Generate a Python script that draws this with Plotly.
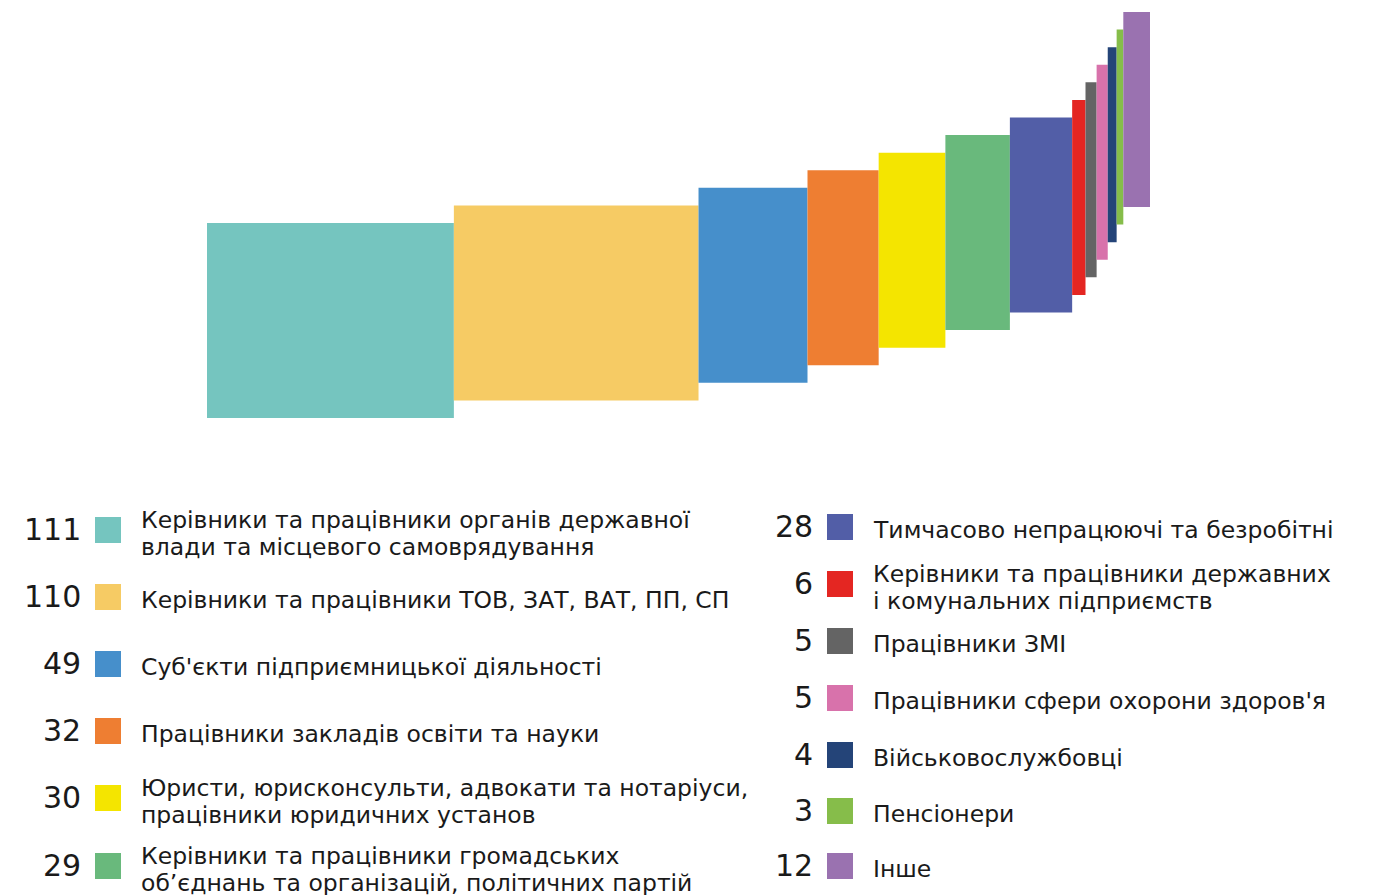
import plotly.graph_objects as go

# ---------------- data ----------------
categories = [
    "Керівники та працівники органів державної<br>влади та місцевого самоврядування",
    "Керівники та працівники ТОВ, ЗАТ, ВАТ, ПП, СП",
    "Суб'єкти підприємницької діяльності",
    "Працівники закладів освіти та науки",
    "Юристи, юрисконсульти, адвокати та нотаріуси,<br>працівники юридичних установ",
    "Керівники та працівники громадських<br>об’єднань та організацій, політичних партій",
    "Тимчасово непрацюючі та безробітні",
    "Керівники та працівники державних<br>і комунальних підприємств",
    "Працівники ЗМІ",
    "Працівники сфери охорони здоров'я",
    "Військовослужбовці",
    "Пенсіонери",
    "Інше",
]
values = [111, 110, 49, 32, 30, 29, 28, 6, 5, 5, 4, 3, 12]
colors = [
    "#75C5BF", "#F6CB64", "#468FCB", "#EE7E32", "#F4E500", "#69B97C",
    "#525EA7", "#E42622", "#646464", "#D872AB", "#244478", "#86BD4A", "#9A72B0",
]

# ---------------- layout constants ----------------
W, H = 1379, 895
OFF = 8                            # page body margin offset
X0_PX, X1_PX = 207 - OFF, 1150 - OFF
total = sum(values)
px_per_unit = (X1_PX - X0_PX) / total
step_px = 17.58                    # vertical rise between consecutive bars
bar_h_px = 195
first_bottom_px = 418 - OFF

lefts = []
acc = 0
for v in values:
    lefts.append(acc)
    acc += v
centers = [l + v / 2 for l, v in zip(lefts, values)]
bases = [H - first_bottom_px + i * step_px for i in range(len(values))]

fig = go.Figure()
fig.add_trace(go.Bar(
    x=centers,
    y=[bar_h_px] * len(values),
    base=bases,
    width=values,
    marker=dict(color=colors, line=dict(width=0)),
    customdata=values,
    hovertext=[c.replace("<br>", " ") for c in categories],
    hovertemplate="%{hovertext}: %{customdata}<extra></extra>",
))

# ---------------- legend (two columns) ----------------
FONT = "DejaVu Sans"
col_rows = [[530, 597, 664, 731, 798, 866], [527, 584, 641, 698, 755, 811, 866]]
num_right = [83, 815]
sq_left = [95, 827]
text_left = [139, 871]
sq = 26
line_gap = 27

annotations = []
shapes = []
for i, (cat, v, c) in enumerate(zip(categories, values, colors)):
    col = 0 if i < 6 else 1
    row = i if col == 0 else i - 6
    yc = col_rows[col][row] - OFF
    annotations.append(dict(
        x=(num_right[col] - OFF) / W, y=1 - (yc - 1) / H, xref="paper", yref="paper",
        xanchor="right", yanchor="middle", showarrow=False, text=str(v),
        font=dict(family=FONT, size=30, color="#1a1a1a"),
    ))
    shapes.append(dict(
        type="rect", xref="paper", yref="paper",
        x0=(sq_left[col] - OFF) / W, x1=(sq_left[col] - OFF + sq) / W,
        y0=1 - (yc + sq / 2) / H, y1=1 - (yc - sq / 2) / H,
        fillcolor=c, line=dict(width=0),
    ))
    lines = cat.split("<br>")
    n = len(lines)
    for k, ln in enumerate(lines):
        ly = yc + 3 + (k - (n - 1) / 2) * line_gap
        annotations.append(dict(
            x=(text_left[col] - OFF) / W, y=1 - ly / H, xref="paper", yref="paper",
            xanchor="left", yanchor="middle", showarrow=False, text=ln,
            font=dict(family=FONT, size=23.5, color="#1a1a1a"),
        ))

fig.update_layout(
    width=W, height=H,
    margin=dict(l=0, r=0, t=0, b=0),
    paper_bgcolor="white", plot_bgcolor="white",
    showlegend=False,
    xaxis=dict(range=[-X0_PX / px_per_unit, (W - X0_PX) / px_per_unit],
               visible=False, fixedrange=True),
    yaxis=dict(range=[0, H], visible=False, fixedrange=True),
    annotations=annotations,
    shapes=shapes,
)

fig.write_html("out.html")
